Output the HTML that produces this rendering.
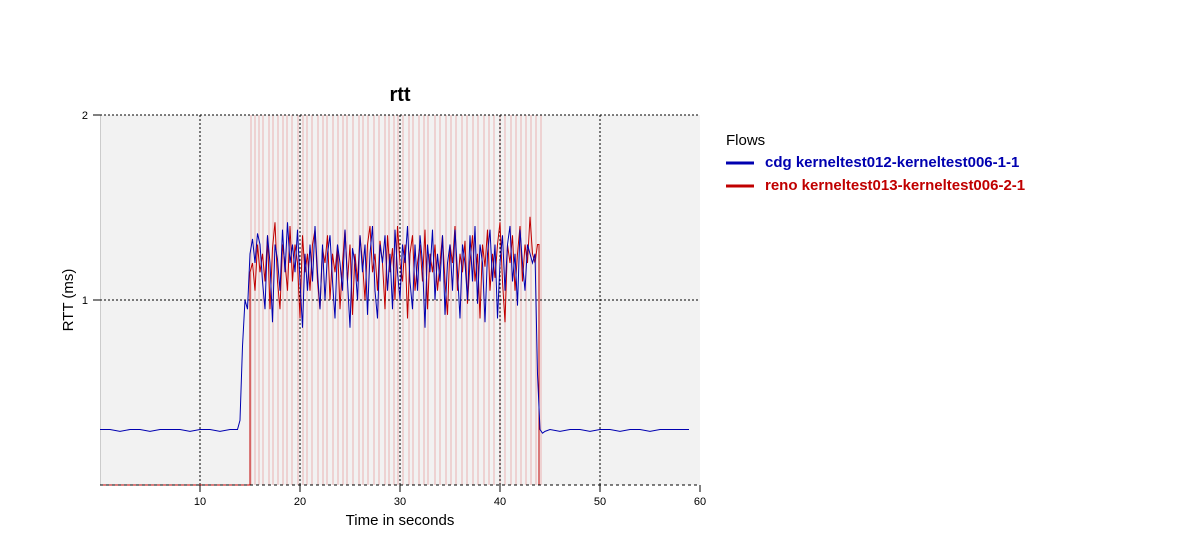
<!DOCTYPE html>
<html><head><meta charset="utf-8"><style>
body{margin:0;background:#fff;width:1200px;height:550px;overflow:hidden;font-family:"Liberation Sans",sans-serif}
svg text{font-family:"Liberation Sans",sans-serif}
</style></head><body>
<svg id="chart" width="1200" height="550" xmlns="http://www.w3.org/2000/svg">
<text x="400" y="101" font-size="20" font-weight="bold" text-anchor="middle">rtt</text>
<rect x="100" y="115" width="600" height="370" fill="#f2f2f2"/>
<line x1="100.5" y1="115" x2="100.5" y2="485" stroke="#ccc"/>
<g id="marks"></g>
<g id="grid"></g>
<g id="series"></g>
<g id="axes"></g>
<text x="400" y="525" font-size="15" text-anchor="middle">Time in seconds</text>
<text transform="translate(73,300) rotate(-90)" font-size="15" text-anchor="middle">RTT (ms)</text>
<g>
<text x="726" y="145" font-size="15">Flows</text>
<line x1="726" y1="163" x2="754" y2="163" stroke="#0000b0" stroke-width="3"/>
<text x="765" y="167" font-size="15" font-weight="bold" fill="#0000b0">cdg kerneltest012-kerneltest006-1-1</text>
<line x1="726" y1="186" x2="754" y2="186" stroke="#c00000" stroke-width="3"/>
<text x="765" y="190" font-size="15" font-weight="bold" fill="#c00000">reno kerneltest013-kerneltest006-2-1</text>
</g>
</svg>
<script>
const xTicks=[10,20,30,40,50,60];
const yTicks=[1,2];
const markTimes=[15.1,15.5,15.9,16.3,16.9,17.3,17.8,18.3,18.7,19.2,19.8,20.3,20.7,21.2,21.8,22.3,22.7,23.3,23.8,24.3,24.7,25.3,25.9,26.3,26.8,27.4,27.9,28.5,28.9,29.4,29.8,30.3,30.9,31.3,31.9,32.4,32.8,33.5,34.0,34.6,35.1,35.6,36.2,36.7,37.3,37.8,38.4,38.9,39.4,40.0,40.5,41.1,41.6,42.1,42.6,43.1,43.6,44.1];
const blueBaseTimes=[0,1,2,3,4,5,6,7,8,9,10,11,12,13,13.75];
const blueBaseVals=[0.30,0.30,0.29,0.30,0.30,0.29,0.30,0.30,0.30,0.29,0.30,0.30,0.29,0.30,0.30];
const blueStart=14.0;
const blueVals=[0.35,0.75,1.0,0.95,1.25,1.33,1.2,1.36,1.3,1.1,0.95,1.35,1.2,0.88,1.3,1.22,1.05,1.38,1.15,1.42,1.2,1.3,1.15,1.38,1.1,0.85,1.25,1.05,1.3,1.1,1.4,1.15,0.95,1.3,1.0,1.25,1.35,1.1,0.9,1.3,1.2,1.05,1.38,1.1,0.85,1.28,1.2,1.0,1.35,1.15,1.3,0.92,1.25,1.4,1.05,0.9,1.3,1.2,1.35,1.05,1.25,0.95,1.38,1.15,1.0,1.3,1.2,1.4,1.1,0.95,1.3,1.05,1.35,1.2,0.85,1.3,1.15,1.38,1.0,1.25,1.1,1.35,0.92,1.2,1.3,1.05,1.38,1.15,0.9,1.3,1.2,1.0,1.35,1.1,1.4,0.98,1.3,1.2,0.88,1.25,1.38,1.1,1.3,0.9,1.2,1.35,1.05,1.3,1.4,1.1,1.25,0.97,1.38,1.2,1.05,1.3,1.25,1.2,1.25,0.6,0.3,0.28,0.29];
const blueTailTimes=[45,46,47,48,49,50,51,52,53,54,55,56,57,58,58.9];
const blueTailVals=[0.30,0.29,0.30,0.30,0.29,0.30,0.30,0.29,0.30,0.30,0.29,0.30,0.30,0.30,0.30];
const redStart=15.0;
const redVals=[1.15,1.2,1.05,1.3,1.15,1.25,1.1,1.35,0.95,1.28,1.42,1.1,0.95,1.3,1.2,1.05,1.4,1.1,1.3,1.2,0.9,1.35,1.15,1.25,1.05,1.3,1.38,1.1,0.95,1.28,1.2,1.35,1.0,1.25,1.15,1.3,0.95,1.2,1.38,1.1,1.3,0.92,1.25,1.1,1.35,1.2,1.0,1.3,1.4,1.15,1.25,1.05,1.32,1.2,0.95,1.35,1.15,1.28,1.0,1.4,1.2,1.1,1.3,0.9,1.25,1.35,1.05,1.2,1.3,1.1,1.38,0.95,1.25,1.15,1.3,1.05,1.2,1.35,1.1,0.92,1.3,1.2,1.4,1.05,1.25,1.15,1.32,0.98,1.2,1.35,1.1,1.25,0.9,1.3,1.18,1.38,1.05,1.25,1.12,1.3,1.42,1.1,0.88,1.3,1.2,1.35,1.05,1.25,1.4,1.1,1.3,1.2,1.45,1.25,1.2,1.3];
const redEnd=43.9;
const X=t=>100+t*10;
const Y=v=>485-v*185;
const NS='http://www.w3.org/2000/svg';
function mk(tag,parent,attrs){const e=document.createElementNS(NS,tag);for(const k in attrs)e.setAttribute(k,attrs[k]);parent.appendChild(e);return e;}
const marks=document.getElementById('marks');
markTimes.forEach(t=>{const l=mk('line',marks,{x1:X(t),x2:X(t),y1:115,y2:485,stroke:'#ecc8c8','stroke-width':1.5});

});
const grid=document.getElementById('grid');
const axes=document.getElementById('axes');
xTicks.forEach(t=>{if(t<60){const g=mk('line',grid,{x1:X(t),x2:X(t),y1:115,y2:485,stroke:'#000','stroke-dasharray':'2,2','stroke-width':1});

}
const tk=mk('line',axes,{x1:X(t),x2:X(t),y1:485,y2:492,stroke:'#000'});


const tx=mk('text',axes,{x:X(t),y:505,'font-size':11,'text-anchor':'middle'});tx.textContent=t;

});
yTicks.forEach(v=>{const g=mk('line',grid,{x1:100,x2:700,y1:Y(v),y2:Y(v),stroke:'#000','stroke-dasharray':'2,2','stroke-width':1});


const tk=mk('line',axes,{x1:93,x2:100,y1:Y(v),y2:Y(v),stroke:'#000'});


const tx=mk('text',axes,{x:88,y:Y(v)+4,'font-size':11,'text-anchor':'end'});tx.textContent=v;

});
const ax=mk('line',axes,{x1:100,x2:700,y1:485,y2:485,stroke:'#000','stroke-dasharray':'3,3'});


const ser=document.getElementById('series');
let bp=[];blueBaseTimes.forEach((t,i)=>bp.push([t,blueBaseVals[i]]));
blueVals.forEach((v,i)=>bp.push([blueStart+i*0.25,v]));
blueTailTimes.forEach((t,i)=>bp.push([t,blueTailVals[i]]));
let rp=[[0,0],[redStart,0]];redVals.forEach((v,i)=>rp.push([redStart+i*0.25,v]));
rp.push([redEnd,rp[rp.length-1][1]]);rp.push([redEnd,0]);rp.push([60,0]);
const pr=mk('polyline',ser,{points:rp.map(p=>X(Math.min(p[0],redEnd))+','+Y(p[1])).join(' '),fill:'none',stroke:'#c00000','stroke-width':1});


const pb=mk('polyline',ser,{points:bp.map(p=>X(p[0])+','+Y(p[1])).join(' '),fill:'none',stroke:'#0000b0','stroke-width':1});


</script>
</body></html>
